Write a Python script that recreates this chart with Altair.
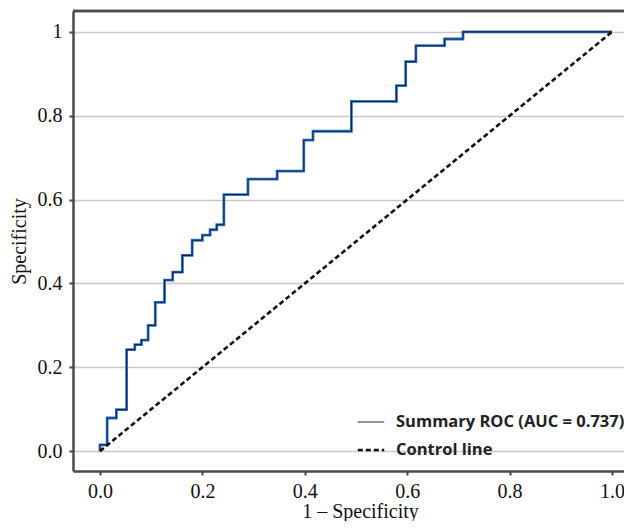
import altair as alt
import pandas as pd

# ---- data ----
roc_fpr = [0.0, 0.0, 0.014, 0.032, 0.052, 0.068, 0.081, 0.094, 0.108, 0.126, 0.142,
           0.161, 0.180, 0.200, 0.215, 0.228, 0.242, 0.289, 0.346, 0.398, 0.416,
           0.491, 0.579, 0.597, 0.617, 0.673, 0.709, 1.0]
roc_tpr = [0.0, 0.015, 0.079, 0.099, 0.242, 0.254, 0.265, 0.300, 0.355, 0.408, 0.427,
           0.467, 0.503, 0.515, 0.528, 0.540, 0.612, 0.649, 0.668, 0.742, 0.763,
           0.834, 0.872, 0.929, 0.967, 0.983, 1.0, 1.0]
ctrl_x = [0.0, 1.0]
ctrl_y = [0.0, 1.0]
series_names = ["Summary ROC (AUC = 0.737)", "Control line"]
x_ticks = [0.0, 0.2, 0.4, 0.6, 0.8, 1.0]
y_ticks = [0.0, 0.2, 0.4, 0.6, 0.8, 1.0]

roc = pd.DataFrame({"x": roc_fpr, "y": roc_tpr, "i": range(len(roc_fpr)),
                    "series": series_names[0]})
ctrl = pd.DataFrame({"x": ctrl_x, "y": ctrl_y, "i": range(len(ctrl_x)),
                     "series": series_names[1]})

SERIF = "Liberation Serif"
FRAME = "#4a4a4a"
W, H = 551, 460

xscale = alt.Scale(domain=[-0.0527, 1.0234], nice=False, zero=False)
yscale = alt.Scale(domain=[-0.0474, 1.0498], nice=False, zero=False)

xaxis = alt.Axis(values=x_ticks, format=".1f", title="1 \u2013 Specificity",
                 grid=False, domain=True, domainColor=FRAME, domainWidth=2.5,
                 tickSize=4, tickWidth=2, tickColor="#444",
                 labelFont=SERIF, labelFontSize=20, labelColor="#111", labelPadding=6,
                 titleFont=SERIF, titleFontSize=20, titleFontWeight="normal",
                 titleColor="#111", titlePadding=0, titleX=287)
yaxis = alt.Axis(values=y_ticks, labelExpr="datum.value == 1 ? '1' : format(datum.value, '.1f')",
                 title="Specificity", grid=True, gridColor="#c8c8c8", gridWidth=1.4,
                 domain=True, domainColor=FRAME, domainWidth=2.5,
                 tickSize=4, tickWidth=2, tickColor="#444",
                 labelFont=SERIF, labelFontSize=20, labelColor="#111", labelPadding=7,
                 titleFont=SERIF, titleFontSize=20, titleFontWeight="normal",
                 titleColor="#111", titlePadding=8)

color = alt.Color("series:N", title=None,
                  scale=alt.Scale(domain=series_names, range=["#1c2040", "#111111"]),
                  legend=alt.Legend(orient="none", legendX=283, legendY=397,
                                    symbolType="stroke", symbolSize=700,
                                    labelFont="Open Sans", labelFontSize=16.5,
                                    labelFontWeight="bold", labelColor="#222",
                                    labelOffset=10, rowPadding=4, labelLimit=400))
dash = alt.StrokeDash("series:N", title=None,
                      scale=alt.Scale(domain=series_names, range=[[1, 0], [5, 3]]))
width_enc = alt.StrokeWidth("series:N", title=None,
                            scale=alt.Scale(domain=series_names, range=[1.1, 2.6]))

base_x = alt.X("x:Q", scale=xscale, axis=xaxis)
base_y = alt.Y("y:Q", scale=yscale, axis=yaxis)

roc_blue = alt.Chart(roc).mark_line(interpolate="step-after", color="#2b7ad4",
                                    strokeWidth=2.8).encode(
    x=base_x, y=base_y, order="i:Q")
roc_dark = alt.Chart(roc).mark_line(interpolate="step-after").encode(
    x=base_x, y=base_y, order="i:Q", color=color, strokeDash=dash, strokeWidth=width_enc)
ctrl_line = alt.Chart(ctrl).mark_line().encode(
    x=base_x, y=base_y, order="i:Q", color=color, strokeDash=dash, strokeWidth=width_enc)

top_frame = alt.Chart(ctrl).mark_rule(color=FRAME, strokeWidth=2.5).encode(
    y=alt.value(0), x=alt.value(0), x2=alt.value(W))

chart = alt.layer(roc_blue, roc_dark, ctrl_line, top_frame).properties(
    width=W, height=H,
    autosize=alt.AutoSizeParams(type="none"),
    padding={"left": 65, "top": 3, "right": 0, "bottom": 50},
    background="white",
).configure_view(stroke=None)

chart.save("out.html", embed_options={"renderer": "svg", "actions": False})
